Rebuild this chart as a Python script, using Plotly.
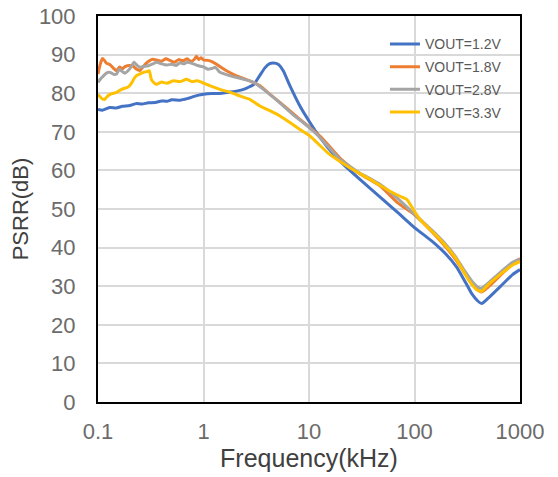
import plotly.graph_objects as go

# ---- data (frequency in kHz, PSRR in dB) ----
f_12 = [0.1, 0.11, 0.12, 0.13, 0.15, 0.17, 0.2, 0.23, 0.26, 0.3, 0.35, 0.4, 0.45, 0.5, 0.6, 0.7, 0.8,
        0.9, 1.0, 1.2, 1.5, 1.8, 2.1, 2.4, 2.7, 3.0, 3.4, 3.8, 4.2, 4.6, 5.1, 5.7, 6.6, 8.2, 10, 12,
        15, 20, 30, 50, 70, 100, 150, 200, 250, 300, 350, 400, 433, 500, 650, 850, 1000]
psrr_12 = [75.8, 75.6, 76.0, 76.3, 76.2, 76.6, 76.8, 77.3, 77.2, 77.5, 77.6, 78.0, 77.9, 78.3, 78.2,
           78.6, 79.1, 79.5, 79.7, 79.9, 80.0, 80.3, 80.6, 81.0, 81.6, 82.3, 84.5, 86.5, 87.6, 87.8,
           87.5, 85.8, 81.9, 76.7, 72.8, 69.5, 66.0, 62.2, 57.8, 52.5, 49.0, 45.2, 41.4, 38.2, 35.0,
           31.3, 28.0, 26.1, 25.5, 26.9, 29.9, 33.0, 34.3]

f_18 = [0.1, 0.105, 0.11, 0.115, 0.12, 0.13, 0.14, 0.15, 0.16, 0.17, 0.18, 0.2, 0.215, 0.23, 0.25,
        0.27, 0.3, 0.33, 0.36, 0.4, 0.44, 0.48, 0.53, 0.58, 0.64, 0.7, 0.76, 0.82, 0.86, 0.9, 0.95,
        1.0, 1.1, 1.2, 1.33, 1.5, 1.65, 2.05, 2.75, 3.43, 4.27, 5.3, 6.6, 8.2, 10.2, 12.7, 15, 20,
        30, 47, 70, 100, 150, 200, 250, 300, 350, 400, 430, 500, 650, 850, 1000]
psrr_18 = [85.0, 87.5, 89.0, 88.5, 87.8, 87.4, 86.5, 85.8, 86.8, 86.3, 86.9, 87.2, 87.0, 86.3, 85.9,
           87.0, 88.2, 88.8, 88.6, 88.3, 88.9, 88.5, 88.0, 88.7, 88.4, 88.9, 88.2, 88.8, 89.6, 88.7,
           89.2, 88.6, 88.5, 88.2, 87.5, 86.5, 85.8, 84.5, 83.2, 81.9, 79.7, 77.6, 75.4, 73.2, 71.1,
           68.9, 66.8, 63.0, 59.2, 56.0, 51.5, 48.5, 43.8, 40.0, 36.6, 33.3, 30.8, 29.0, 28.5, 29.8,
           32.8, 35.8, 37.2]

f_28 = [0.1, 0.105, 0.11, 0.12, 0.13, 0.14, 0.15, 0.16, 0.17, 0.18, 0.2, 0.22, 0.235, 0.25, 0.28,
        0.3, 0.33, 0.36, 0.4, 0.45, 0.5, 0.55, 0.6, 0.65, 0.7, 0.8, 0.9, 1.0, 1.1, 1.2, 1.3, 1.43,
        1.8, 2.4, 3.0, 3.7, 4.6, 5.7, 7, 8.8, 11.8, 15, 19.6, 30, 47, 70, 105, 150, 200, 250, 300,
        350, 400, 430, 500, 650, 850, 1000]
psrr_28 = [82.8, 83.6, 84.2, 85.2, 85.4, 84.9, 85.0, 86.2, 85.6, 85.2, 86.3, 88.0, 87.2, 86.7, 87.0,
           87.1, 87.6, 88.0, 87.6, 87.3, 87.5, 87.2, 87.9, 87.6, 88.0, 87.6, 87.1, 86.8, 86.2, 86.4,
           86.7, 85.4, 84.5, 83.6, 82.8, 81.0, 78.9, 76.7, 74.5, 72.4, 69.4, 66.3, 62.9, 59.4, 56.4,
           52.6, 48.1, 44.2, 40.7, 37.3, 33.9, 31.3, 29.7, 29.4, 30.8, 33.6, 36.2, 37.0]

f_33 = [0.1, 0.105, 0.11, 0.116, 0.12, 0.13, 0.14, 0.15, 0.167, 0.18, 0.19, 0.2, 0.21, 0.22, 0.23,
        0.25, 0.27, 0.29, 0.306, 0.315, 0.32, 0.34, 0.36, 0.4, 0.45, 0.52, 0.6, 0.69, 0.78, 0.86,
        0.93, 1.0, 1.07, 1.16, 1.43, 1.8, 2.2, 2.75, 3.43, 4.3, 5.3, 6.6, 8.2, 10.2, 15.6, 24.3,
        37.8, 58.6, 72.8, 84.5, 102, 113, 175, 251, 324, 389, 433, 500, 646, 865, 1000]
psrr_33 = [79.7, 79.0, 78.5, 78.4, 78.9, 79.7, 80.0, 80.2, 81.0, 81.3, 81.5, 82.0, 82.8, 83.8, 84.5,
           85.0, 85.4, 85.6, 85.8, 84.5, 83.6, 82.7, 82.3, 82.9, 82.6, 83.2, 83.0, 83.6, 83.0, 83.2,
           83.0, 82.6, 82.3, 81.9, 81.0, 80.2, 79.3, 78.4, 76.7, 75.4, 74.1, 72.4, 70.6, 68.9, 64.2,
           60.7, 57.7, 54.6, 53.3, 52.5, 49.0, 47.3, 42.1, 36.9, 31.7, 29.1, 28.7, 30.4, 33.0, 35.6,
           36.4]

series_names = ["VOUT=1.2V", "VOUT=1.8V", "VOUT=2.8V", "VOUT=3.3V"]
series_colors = ["#4472C4", "#ED7D31", "#A5A5A5", "#FFC000"]
series_x = [f_12, f_18, f_28, f_33]
series_y = [psrr_12, psrr_18, psrr_28, psrr_33]

x_tickvals = [0.1, 1, 10, 100, 1000]
x_ticktext = ["0.1", "1", "10", "100", "1000"]
y_tickvals = list(range(0, 101, 10))

FONT = "Liberation Sans, Arial, sans-serif"

fig = go.Figure()
for i, (name, color, xs, ys) in enumerate(zip(series_names, series_colors, series_x, series_y)):
    fig.add_trace(go.Scatter(x=xs, y=ys, mode="lines", name=name, legendgroup=f"g{i}",
                             line=dict(color=color, width=3, shape="spline", smoothing=0.5)))

fig.update_layout(
    width=558, height=477,
    margin=dict(l=98, r=38, t=16, b=75, autoexpand=False),
    paper_bgcolor="white", plot_bgcolor="white",
    font=dict(family=FONT, color="#595959"),
    legend=dict(x=0.68, y=0.968, xanchor="left", yanchor="top",
                bgcolor="rgba(255,255,255,0)", font=dict(size=14, color="#595959", family=FONT),
                traceorder="grouped", tracegroupgap=1.5),
    showlegend=True,
)
fig.update_xaxes(type="log", range=[-1, 3], tickvals=x_tickvals, ticktext=x_ticktext,
                 automargin=False,
                 showgrid=True, gridcolor="#D9D9D9", gridwidth=2,
                 showline=True, linecolor="black", linewidth=2, mirror=True,
                 ticks="", ticklabelstandoff=9,
                 tickfont=dict(size=22, color="#6b6b6b"),
                 title=dict(text="Frequency(kHz)", font=dict(size=25, color="#404040"), standoff=6))
fig.update_yaxes(range=[0, 100], tickvals=y_tickvals, automargin=False,
                 showgrid=True, gridcolor="#D9D9D9", gridwidth=2,
                 showline=True, linecolor="black", linewidth=2, mirror=True,
                 ticks="", ticklabelstandoff=16, zeroline=False,
                 tickfont=dict(size=22, color="#6b6b6b"),
                 title=dict(text="PSRR(dB)", font=dict(size=22, color="#404040"), standoff=4))

fig.write_html("out.html")
